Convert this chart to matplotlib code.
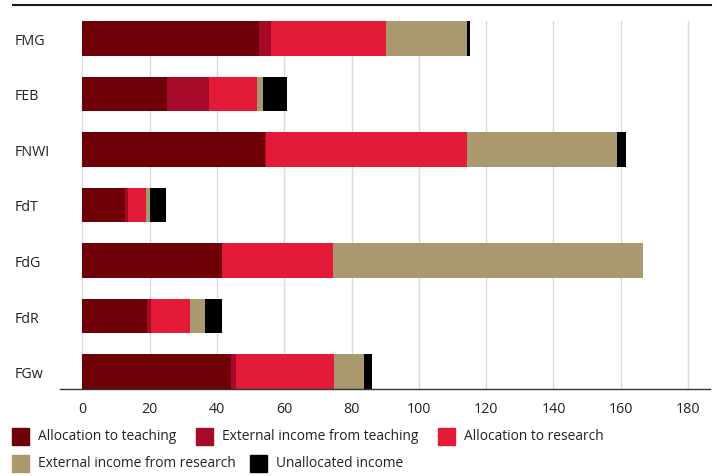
import matplotlib
matplotlib.use("Agg")
import matplotlib.pyplot as plt
import numpy as np
from matplotlib.lines import Line2D
from matplotlib.patches import Rectangle

plt.rcParams['font.family'] = ['Open Sans', 'DejaVu Sans']

faculties = ["FMG", "FEB", "FNWI", "FdT", "FdG", "FdR", "FGw"]
alloc_teaching = [52.6, 25.2, 54.4, 12.7, 41.6, 19.3, 44.3]
ext_teaching = [3.5, 12.5, 0.3, 1.0, 0.0, 1.0, 1.5]
alloc_research = [34.1, 14.2, 59.5, 5.2, 32.9, 11.7, 29.0]
ext_research = [24.2, 1.7, 44.6, 1.2, 92.0, 4.4, 9.0]
unallocated = [0.8, 7.1, 2.8, 4.7, 0.0, 5.2, 2.2]

series_names = ["Allocation to teaching", "External income from teaching",
                "Allocation to research", "External income from research",
                "Unallocated income"]
colors = ["#700008", "#a60a28", "#e41b38", "#aa996e", "#000000"]
xticks = [0, 20, 40, 60, 80, 100, 120, 140, 160, 180]

W, H = 717, 477
fig = plt.figure(figsize=(W / 100, H / 100), dpi=100)
ax = fig.add_axes([60 / W, (H - 390) / H, 650 / W, 368 / H])

series = [alloc_teaching, ext_teaching, alloc_research, ext_research, unallocated]
y = np.arange(len(faculties))
left = np.zeros(len(faculties))
for vals, col in zip(series, colors):
    ax.barh(y, vals, left=left, height=0.63, color=col, zorder=2)
    left += np.array(vals)

ax.set_ylim(6.315, -0.315)
ax.set_xlim(-6.63, 186.5)
ax.set_xticks(xticks)
ax.set_xticklabels([str(t) for t in xticks])
ax.set_yticks(y)
ax.set_yticklabels(faculties)
for lab in ax.get_yticklabels():
    lab.set_horizontalalignment("left")
ax.tick_params(axis="y", length=0, pad=32.4, labelsize=10.3, labelcolor="#222222")
ax.tick_params(axis="x", length=0, pad=9, labelsize=10.3, labelcolor="#222222")

ax.grid(axis="x", color="#d9d9d9", linewidth=1.0, zorder=0)
ax.set_axisbelow(True)
for s in ["top", "right", "left"]:
    ax.spines[s].set_visible(False)
ax.spines["bottom"].set_color("#333333")
ax.spines["bottom"].set_linewidth(1.0)

# line across the top
fig.add_artist(Line2D([13 / W, 711 / W], [(H - 6) / H, (H - 6) / H],
                      color="#1a1a1a", linewidth=1.5))

# legend, two rows
legend_pos = [(12, 437), (196, 437), (438, 437), (12, 464), (250, 464)]
for (px, py), name, col in zip(legend_pos, series_names, colors):
    fig.add_artist(Rectangle((px / W, (H - py - 8.5) / H), 17 / W, 17 / H,
                             color=col, transform=fig.transFigure))
    fig.text((px + 26) / W, (H - py) / H, name, fontsize=9.9,
             color="#222222", va="center", ha="left")

fig.savefig("out.png", dpi=100)
